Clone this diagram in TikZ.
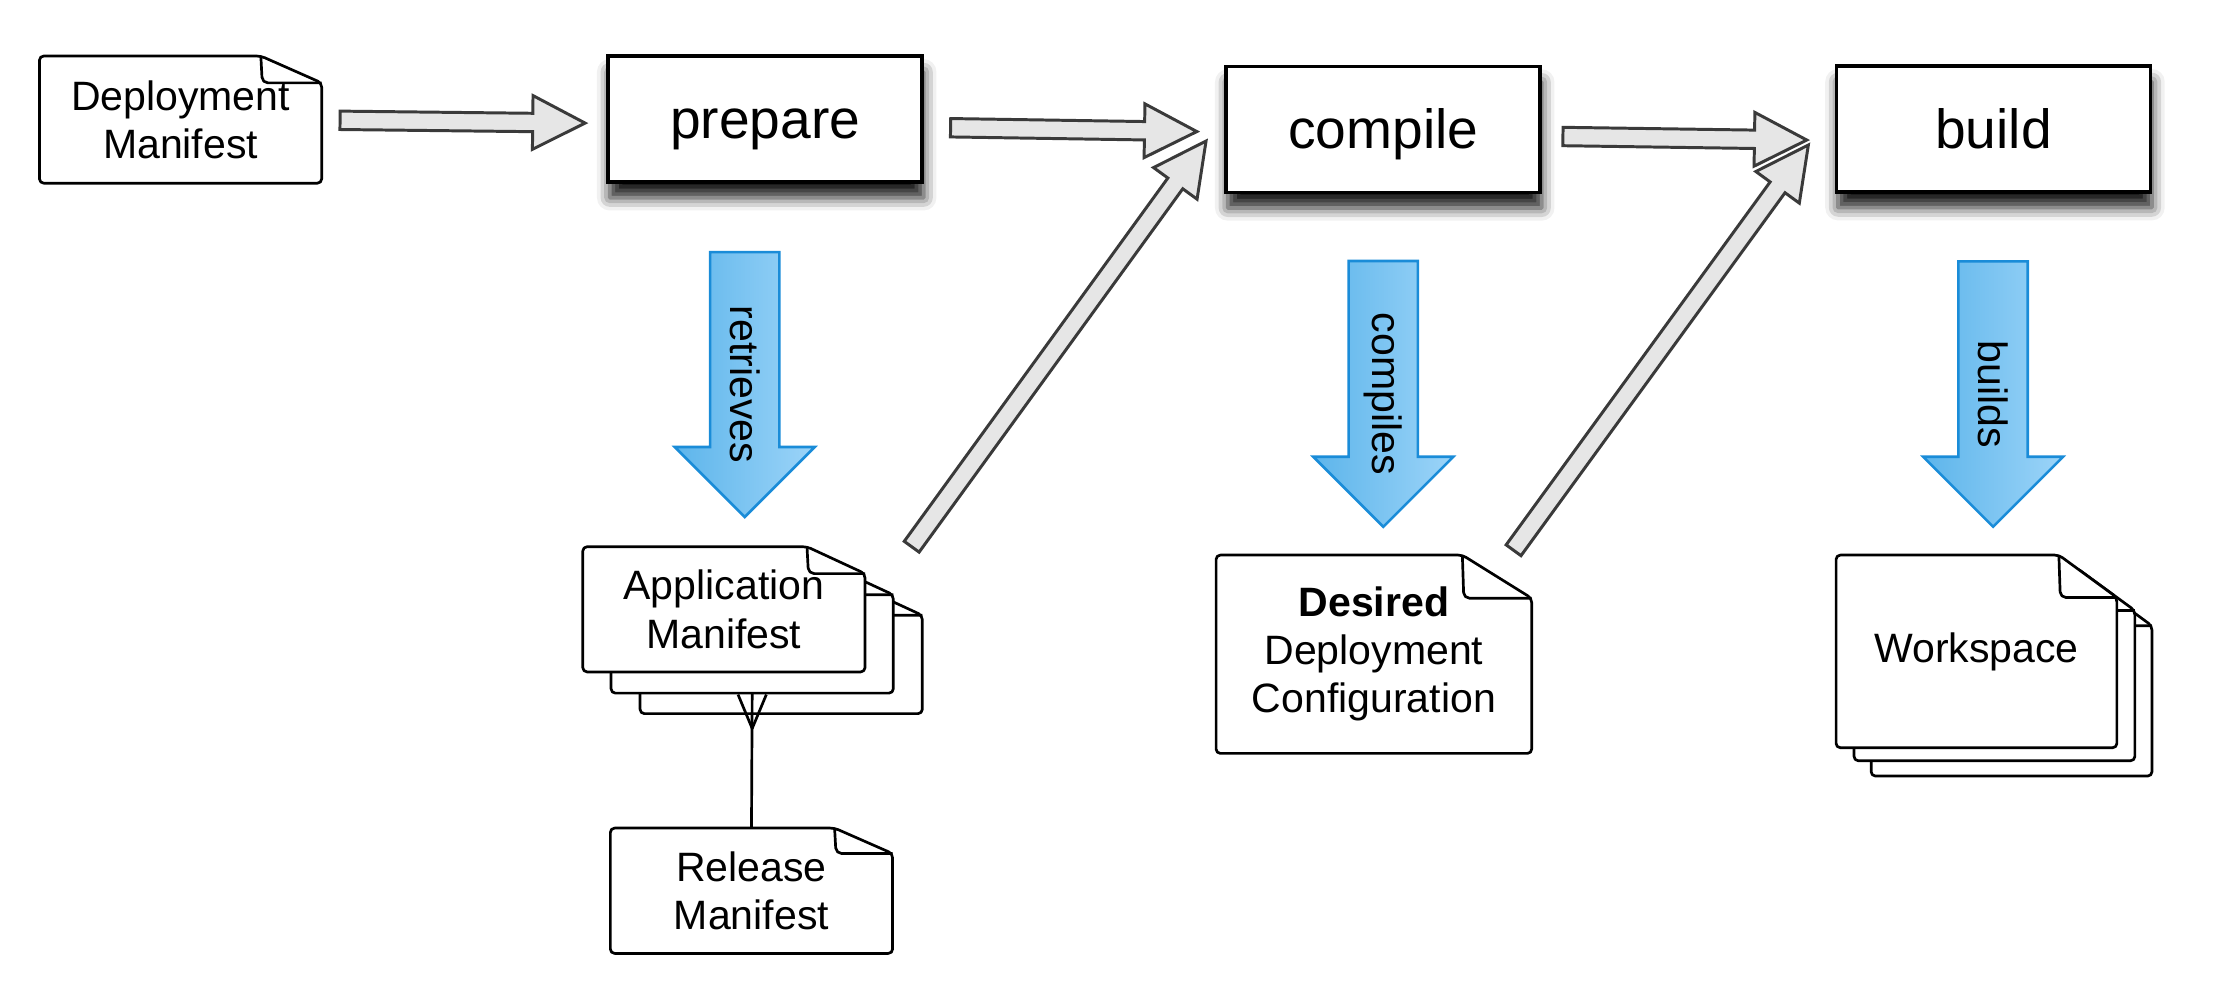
\documentclass[tikz,border=0pt]{standalone}
\usepackage{fontspec}
\setmainfont{Liberation Sans}
\usetikzlibrary{calc,shadows.blur}
\definecolor{arrowfill}{HTML}{E6E6E6}
\definecolor{arrowline}{HTML}{3A3A3A}
\definecolor{blueline}{HTML}{1A8CD8}
\definecolor{blueleft}{HTML}{5DB5EB}
\definecolor{blueright}{HTML}{9CD4F8}

% block arrow: #1 style, #2 tail, #3 tip, #4 half shaft, #5 half head, #6 head length
\newcommand\blockarrow[6]{%
  \coordinate (babase) at ($(#3)!#6!(#2)$);
  \draw[#1] ($(#2)!#4!90:(#3)$) -- ($(babase)!#4!90:(#3)$) -- ($(babase)!#5!90:(#3)$)
    -- (#3) -- ($(babase)!#5!-90:(#3)$) -- ($(babase)!#4!-90:(#3)$) -- ($(#2)!#4!-90:(#3)$) -- cycle;}

% document sheet: #1 name, #2 x, #3 y, #4 w, #5 h, #6 fold w, #7 fold h, #8 text
\newcommand\docsheet[8]{%
  \draw[docline, fill=white, rounded corners=3pt] (#2,#3) -- (#2+#4-#6,#3) -- (#2+#4,#3+#7)
    -- (#2+#4,#3+#5) -- (#2,#3+#5) -- cycle;
  \draw[docline, rounded corners=4pt] (#2+#4-#6,#3) -- (#2+#4-#6+1,#3+#7) -- (#2+#4,#3+#7);
  \node[doctext, minimum width=#4pt, minimum height=#5pt] (#1) at (#2+#4/2,#3+#5/2) {#8};}

\begin{document}
\begin{tikzpicture}[x=1pt,y=-1pt,
  docline/.style={draw=black, line width=1.9pt, line join=round},
  doctext/.style={font=\fontsize{29}{34}\selectfont, align=center, inner sep=0pt, outer sep=0pt},
  procbox/.style={draw=black, fill=white, line width=2.6pt, minimum width=222pt, minimum height=89pt,
    font=\fontsize{39}{44}\selectfont, text height=31pt, text depth=4pt, inner sep=0pt, outer sep=0pt,
    blur shadow={shadow xshift=1pt, shadow yshift=-11pt, shadow blur radius=9pt, shadow opacity=90}},
  grayarrow/.style={draw=arrowline, fill=arrowfill, line width=2.1pt, line join=miter},
  bluearrow/.style={draw=blueline, line width=1.8pt, left color=blueleft, right color=blueright, line join=miter},
  verblabel/.style={font=\fontsize{29}{34}\selectfont, rotate=-90, inner sep=0pt}
]
\useasboundingbox (0,0) rectangle (1568,702);

% documents
\docsheet{dm}{27.9}{39.6}{199.5}{89.9}{43}{19}{Deployment\\Manifest}
\docsheet{am3}{452.5}{416}{199.5}{88.5}{41}{19}{}
\docsheet{am2}{432}{401.5}{199.5}{88.5}{41}{19}{}
\docsheet{am}{412}{386.5}{199.5}{88.5}{41}{19}{Application\\Manifest}
\docsheet{rm}{431.5}{585.4}{199.5}{88.6}{41}{18}{Release\\Manifest}
\docsheet{ddc}{859.7}{392.4}{223.1}{140.2}{49}{30.5}{\textbf{Desired}\\Deployment\\Configuration}
\docsheet{ws3}{1322.8}{412.4}{198.5}{136.2}{41}{30}{}
\docsheet{ws2}{1310.7}{401.6}{198.5}{136.2}{41}{30}{}
\docsheet{ws}{1298}{392.4}{198.5}{136.2}{41}{30}{Workspace}

% process boxes
\node[procbox] (prep) at (541,84.3) {prepare};
\node[procbox] (comp) at (977.9,91.5) {compile};
\node[procbox] (build) at (1409.3,91.3) {build};

% release manifest -> application manifests (crow's foot)
\coordinate (fork) at ($(am2.south)+(0,25)$);
\draw[docline] (rm.north) -- (am2.south);
\draw[docline] ($(am2.south)+(-10,1)$) -- (fork) -- ($(am2.south)+(10,1)$);

% gray flow arrows
\coordinate (a1s) at ($(dm.east)+(13,0.5)$);
\coordinate (a1e) at ($(prep.west)+(-16.4,2.7)$);
\coordinate (a2s) at ($(prep.east)+(20,6)$);
\coordinate (a2e) at ($(comp.west)+(-20.8,1.5)$);
\coordinate (a3s) at ($(comp.east)+(16,5)$);
\coordinate (a3e) at ($(build.west)+(-21,7.7)$);
\coordinate (d1s) at ($(am.north east)+(33,0)$);
\coordinate (d1e) at ($(comp.west)+(-14.3,8.2)$);
\coordinate (d2s) at ($(ddc.north east)+(-12.8,-3.4)$);
\coordinate (d2e) at ($(build.west)+(-19.9,11.2)$);
\blockarrow{grayarrow}{a1s}{a1e}{6.5pt}{19pt}{37pt}
\blockarrow{grayarrow}{a2s}{a2e}{6.5pt}{19pt}{37pt}
\blockarrow{grayarrow}{a3s}{a3e}{6.5pt}{19pt}{37pt}
\blockarrow{grayarrow}{d1s}{d1e}{6.5pt}{19pt}{37pt}
\blockarrow{grayarrow}{d2s}{d2e}{6.5pt}{19pt}{37pt}

% blue action arrows
\coordinate (b1s) at ($(prep.south)+(-14.5,49.4)$);
\coordinate (b1e) at ($(am.north)+(14.75,-21)$);
\coordinate (b2s) at ($(comp.south)+(0,48.5)$);
\coordinate (b2e) at ($(ddc.north)+(6.65,-20)$);
\coordinate (b3s) at ($(build.south)+(-0.3,49)$);
\coordinate (b3e) at ($(ws.north)+(11.75,-20)$);
\blockarrow{bluearrow}{b1s}{b1e}{24.5pt}{49.5pt}{49.5pt}
\blockarrow{bluearrow}{b2s}{b2e}{24.5pt}{49.5pt}{49.5pt}
\blockarrow{bluearrow}{b3s}{b3e}{24.5pt}{49.5pt}{49.5pt}
\node[verblabel] (l1) at ($(b1s)!0.5!(b1e)$) {retrieves};
\node[verblabel] (l2) at ($(b2s)!0.5!(b2e)$) {compiles};
\node[verblabel] (l3) at ($(b3s)!0.5!(b3e)$) {builds};
\end{tikzpicture}
\end{document}
